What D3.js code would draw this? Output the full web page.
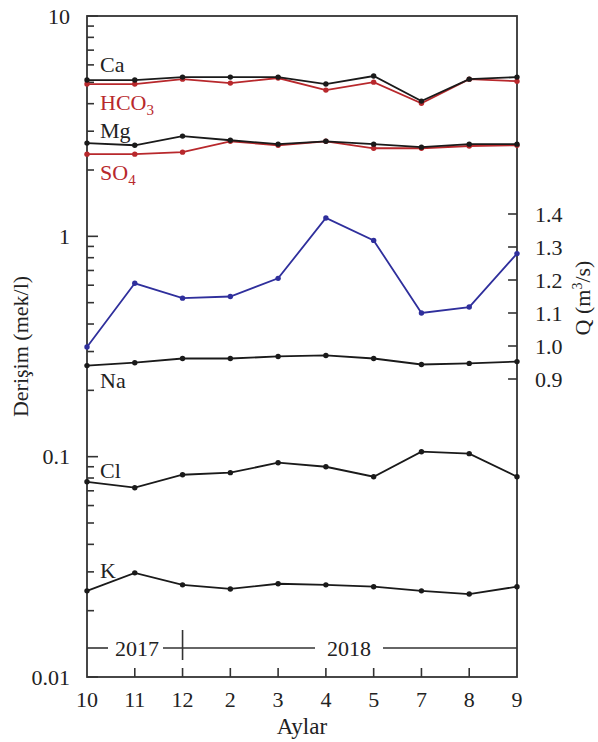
<!DOCTYPE html>
<html>
<head>
<meta charset="utf-8">
<script src="https://cdn.jsdelivr.net/npm/d3@7"></script>
<style>
  body { margin: 0; background: #fff; }
  text { font-family: "Liberation Serif", "Times New Roman", serif; }
</style>
</head>
<body>
<svg id="chart"></svg>
<script>
// aylar (months)
const months = ['10', '11', '12', '2', '3', '4', '5', '7', '8', '9'];

// konsantrasyonlar (mek/l)
const ca   = [5.12, 5.12, 5.28, 5.28, 5.28, 4.91, 5.34, 4.11, 5.17, 5.28];
const hco3 = [4.91, 4.91, 5.17, 4.96, 5.23, 4.61, 5.01, 4.02, 5.17, 5.06];
const mg   = [2.65, 2.59, 2.85, 2.73, 2.62, 2.70, 2.62, 2.54, 2.62, 2.62];
const so4  = [2.36, 2.36, 2.41, 2.70, 2.59, 2.70, 2.51, 2.51, 2.57, 2.59];
const na   = [0.259, 0.267, 0.279, 0.279, 0.285, 0.288, 0.279, 0.262, 0.265, 0.270];
const cl   = [0.0769, 0.0723, 0.0828, 0.0846, 0.0939, 0.0900, 0.0811, 0.1053, 0.1032, 0.0811];
const k    = [0.0246, 0.0297, 0.0262, 0.0251, 0.0265, 0.0262, 0.0257, 0.0246, 0.0238, 0.0257];

// debi Q (m3/s)
const q = [0.997, 1.19, 1.145, 1.15, 1.205, 1.388, 1.32, 1.10, 1.118, 1.28];

const leftTicks = [10, 1, 0.1, 0.01];
const qTicks = [0.9, 1.0, 1.1, 1.2, 1.3, 1.4];

const BLACK = '#1a1a1a';
const RED = '#b8282c';
const BLUE = '#2f2f9c';

const width = 598, height = 742;
const margin = { top: 16, right: 81, bottom: 65, left: 87 };
const innerW = width - margin.left - margin.right;
const innerH = height - margin.top - margin.bottom;

const svg = d3.select('#chart').attr('width', width).attr('height', height);
const g = svg.append('g').attr('transform', `translate(${margin.left},${margin.top})`);

const x = d3.scalePoint().domain(months).range([0, innerW]);
const y = d3.scaleLog().domain([0.01, 10]).range([innerH, 0]);
// sag eksen: 0.9 -> 363, 1.4 -> 198 (ic koordinat)
const yQ = d3.scaleLinear().domain([0.9, 1.4]).range([363, 198]);

// cerceve
g.append('rect')
    .attr('width', innerW).attr('height', innerH)
    .attr('fill', 'none').attr('stroke', '#333').attr('stroke-width', 1.8);

// sol eksen (log)
const minorTicks = [];
[0.01, 0.1, 1].forEach(d => { for (let i = 2; i <= 9; i++) minorTicks.push(d * i); });
g.selectAll('.minor').data(minorTicks).enter().append('line')
    .attr('x1', 0).attr('x2', 7)
    .attr('y1', d => y(d)).attr('y2', d => y(d))
    .attr('stroke', '#333').attr('stroke-width', 1.6);
g.selectAll('.major').data(leftTicks).enter().append('line')
    .attr('x1', 0).attr('x2', 11)
    .attr('y1', d => y(d)).attr('y2', d => y(d))
    .attr('stroke', '#333').attr('stroke-width', 1.6);
g.selectAll('.ylab').data(leftTicks).enter().append('text')
    .attr('x', -17).attr('y', d => y(d)).attr('dy', '0.35em')
    .attr('text-anchor', 'end')
    .style('font-size', '22px').style('fill', '#222')
    .text(d => d);

// alt eksen
g.selectAll('.xtick').data(months.slice(1, -1)).enter().append('line')
    .attr('x1', d => x(d)).attr('x2', d => x(d))
    .attr('y1', innerH).attr('y2', innerH - 9)
    .attr('stroke', '#333').attr('stroke-width', 1.6);
g.selectAll('.xlab').data(months).enter().append('text')
    .attr('x', d => x(d)).attr('y', innerH + 30)
    .attr('text-anchor', 'middle')
    .style('font-size', '22px').style('fill', '#222')
    .text(d => d);
g.append('text')
    .attr('x', innerW / 2).attr('y', innerH + 57)
    .attr('text-anchor', 'middle')
    .style('font-size', '23px').style('fill', '#222')
    .text('Aylar');

// yil cizgisi
const yearY = innerH - 29;
const yearLine = (a, b) => g.append('line')
    .attr('x1', a).attr('x2', b).attr('y1', yearY).attr('y2', yearY)
    .attr('stroke', '#333').attr('stroke-width', 1.6);
yearLine(0, 21);
yearLine(76, 228);
yearLine(296, innerW);
g.append('line')
    .attr('x1', x('12')).attr('x2', x('12'))
    .attr('y1', yearY - 18).attr('y2', yearY + 12)
    .attr('stroke', '#333').attr('stroke-width', 1.6);
g.append('text').attr('x', 50).attr('y', yearY).attr('dy', '0.35em')
    .attr('text-anchor', 'middle').style('font-size', '22px').style('fill', '#222')
    .text('2017');
g.append('text').attr('x', 262).attr('y', yearY).attr('dy', '0.35em')
    .attr('text-anchor', 'middle').style('font-size', '22px').style('fill', '#222')
    .text('2018');

// sag eksen (Q)
g.selectAll('.qtick').data(qTicks).enter().append('line')
    .attr('x1', innerW - 9).attr('x2', innerW)
    .attr('y1', d => yQ(d)).attr('y2', d => yQ(d))
    .attr('stroke', '#333').attr('stroke-width', 1.6);
g.selectAll('.qlab').data(qTicks).enter().append('text')
    .attr('x', innerW + 18).attr('y', d => yQ(d)).attr('dy', '0.35em')
    .style('font-size', '22px').style('fill', '#222')
    .text(d => d.toFixed(1));

// seriler
function drawSeries(values, scale, color) {
    const line = d3.line().x((d, i) => x(months[i])).y(d => scale(d));
    g.append('path').datum(values)
        .attr('d', line)
        .attr('fill', 'none').attr('stroke', color).attr('stroke-width', 1.8);
    g.selectAll(null).data(values).enter().append('circle')
        .attr('cx', (d, i) => x(months[i])).attr('cy', d => scale(d))
        .attr('r', 2.7).attr('fill', color);
}
drawSeries(hco3, y, RED);
drawSeries(ca, y, BLACK);
drawSeries(so4, y, RED);
drawSeries(mg, y, BLACK);
drawSeries(na, y, BLACK);
drawSeries(cl, y, BLACK);
drawSeries(k, y, BLACK);
drawSeries(q, yQ, BLUE);

// seri etiketleri
function label(txt, sub, yy, color) {
    const t = g.append('text').attr('x', 13).attr('y', yy)
        .style('font-size', '22px').style('fill', color).text(txt);
    if (sub) {
        t.append('tspan').attr('dy', 5).style('font-size', '15px').text(sub);
    }
}
label('Ca', null, 56, '#222');
label('HCO', '3', 94, RED);
label('Mg', null, 122, '#222');
label('SO', '4', 164, RED);
label('Na', null, 372, '#222');
label('Cl', null, 462, '#222');
label('K', null, 562, '#222');

// eksen basliklari
svg.append('text')
    .attr('transform', `translate(28, ${margin.top + innerH / 2}) rotate(-90)`)
    .attr('text-anchor', 'middle')
    .style('font-size', '22px').style('fill', '#222')
    .text('Derişim (mek/l)');
const qt = svg.append('text')
    .attr('transform', `translate(590, 298) rotate(-90)`)
    .attr('text-anchor', 'middle')
    .style('font-size', '22px').style('fill', '#222');
qt.append('tspan').text('Q (m');
qt.append('tspan').attr('dy', -8).style('font-size', '14px').text('3');
qt.append('tspan').attr('dy', 8).text('/s)');
</script>
</body>
</html>
